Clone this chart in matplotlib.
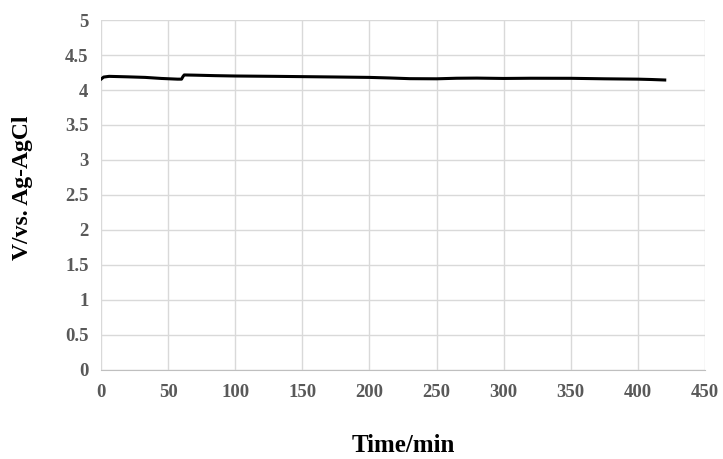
import matplotlib.pyplot as plt

# 电位随时间变化（读数）
time_min = [0, 2, 6, 12, 20, 33, 45, 57, 60, 61, 62, 70, 85, 100, 130, 174, 200, 215, 230,
            250, 265, 280, 300, 320, 350, 375, 400, 410, 420]
potential = [4.155, 4.185, 4.195, 4.192, 4.188, 4.18, 4.165, 4.155, 4.155, 4.19, 4.215,
             4.212, 4.205, 4.2, 4.195, 4.186, 4.18, 4.172, 4.162, 4.16, 4.168, 4.17, 4.165,
             4.168, 4.167, 4.16, 4.155, 4.15, 4.143]

x_ticks = [0, 50, 100, 150, 200, 250, 300, 350, 400, 450]
y_ticks = [0, 0.5, 1, 1.5, 2, 2.5, 3, 3.5, 4, 4.5, 5]

plt.rcParams['font.family'] = ['Liberation Serif', 'DejaVu Serif']

fig = plt.figure(figsize=(7.23, 4.59), dpi=100)
ax = fig.add_axes([0.1397, 0.194, 0.8354, 0.7624])

ax.plot(time_min, potential, color='black', linewidth=2.2)

ax.set_xlim(0, 450)
ax.set_ylim(0, 5)
ax.set_xticks(x_ticks)
ax.set_yticks(y_ticks)
ax.set_xticklabels([str(v) for v in x_ticks])
ax.set_yticklabels([f'{v:g}' for v in y_ticks])
ax.grid(True, color='#d9d9d9', linewidth=1)
ax.set_axisbelow(True)

for side in ['top', 'right', 'left']:
    ax.spines[side].set_visible(False)
ax.spines['bottom'].set_color('#bfbfbf')

ax.tick_params(length=0, labelsize=13.5, labelcolor='#595959')
ax.tick_params(axis='x', pad=10)
ax.tick_params(axis='y', pad=9)
for lab in ax.get_xticklabels() + ax.get_yticklabels():
    lab.set_fontweight('bold')

ax.set_xlabel('Time/min', fontsize=18, fontweight='bold', labelpad=24)
ax.set_ylabel('V/vs. Ag-AgCl', fontsize=17, fontweight='bold')
ax.yaxis.set_label_coords(-0.112, 0.52)

fig.savefig('out.png', dpi=100)
